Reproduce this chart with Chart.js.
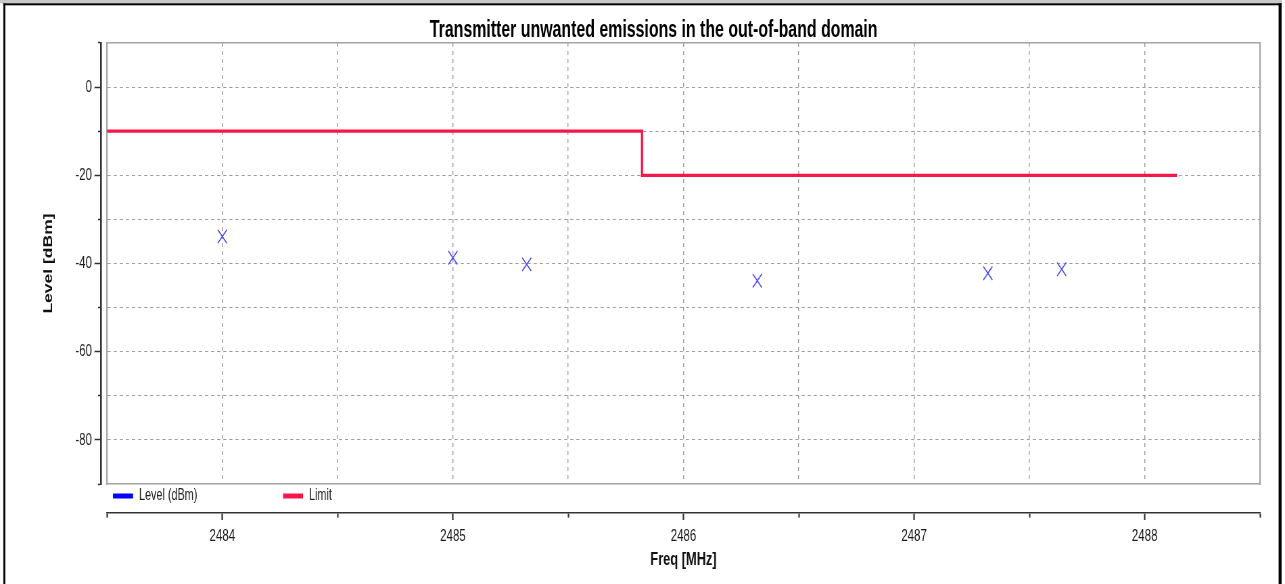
<!DOCTYPE html>
<html><head><meta charset="utf-8">
<script src="https://cdn.jsdelivr.net/npm/chart.js@4.4.1/dist/chart.umd.min.js"></script>
<style>html,body{margin:0;padding:0;background:#fff;overflow:hidden}canvas{display:block}</style>
</head><body>
<canvas id="c" width="1900" height="584" style="width:1285px;height:584px"></canvas>
<script>
// ---- data ----
const levelFreq   = [2484.0, 2485.0, 2485.32, 2486.32, 2487.32, 2487.64];
const levelValues = [-33.9, -38.7, -40.2, -43.9, -42.2, -41.3];
const limitFreq   = [2483.5, 2485.82, 2485.82, 2488.14];
const limitLevel  = [-10, -10, -20, -20];
const yTickLabels = [0, -20, -40, -60, -80];
const xTickLabels = [2484, 2485, 2486, 2487, 2488];
const seriesNames = ['Level (dBm)', 'Limit'];

// canvas is drawn wide and shown squeezed horizontally, like the reference
const SX = 1900 / 1285;
const FONT = "'Liberation Sans', Arial, sans-serif";

const framePlugin = {
  id: 'frame',
  beforeDraw(chart) {
    const c = chart.ctx;
    c.save();
    c.fillStyle = '#fff'; c.fillRect(0, 0, chart.width, chart.height);
    c.fillStyle = '#c8c8c8'; c.fillRect(0, 0, 1282 * SX, 3.4);
    c.fillStyle = '#000';
    c.fillRect(3.3 * SX, 3.3, (1281.7 - 3.3) * SX, 2);
    c.fillRect(3.3 * SX, 3.3, 2 * SX, chart.height);
    c.fillRect(1278.6 * SX, 3.3, 3 * SX, chart.height);
    c.restore();
  }
};

const legendColors = ['#0000ff', '#f5164a'];
const legendPlugin = {
  id: 'bandLegend',
  afterDraw(chart) {
    const c = chart.ctx, a = chart.chartArea;
    const offs = [6 * SX, 176 * SX];
    c.save();
    c.font = '16px ' + FONT;
    c.textBaseline = 'middle';
    c.textAlign = 'left';
    chart.data.datasets.forEach((ds, i) => {
      const x = a.left + offs[i];
      c.fillStyle = legendColors[i];
      c.fillRect(x, a.bottom + 9.5, 20 * SX, 5);
      c.fillStyle = '#222';
      c.fillText(ds.label, x + 26 * SX, a.bottom + 12);
    });
    c.restore();
  }
};

const gridGray = '#9c9c9c';
const borderGray = '#a4a4a4';

new Chart(document.getElementById('c'), {
  type: 'scatter',
  data: {
    datasets: [
      {
        label: seriesNames[0],
        data: levelFreq.map((f, i) => ({x: f, y: levelValues[i]})),
        showLine: false,
        pointStyle: 'crossRot',
        pointRadius: 9.5,
        pointBorderWidth: 1.4,
        pointBorderColor: '#4646ff',
        pointBackgroundColor: '#4646ff',
        xAxisID: 'x', yAxisID: 'y'
      },
      {
        label: seriesNames[1],
        data: limitFreq.map((f, i) => ({x: f, y: limitLevel[i]})),
        showLine: true,
        borderColor: '#f5164a',
        borderWidth: 3.3,
        pointRadius: 0,
        tension: 0,
        xAxisID: 'x', yAxisID: 'y'
      }
    ]
  },
  options: {
    responsive: false,
    animation: false,
    devicePixelRatio: 1,
    layout: {padding: {left: 33, right: 0, top: 0, bottom: 0}},
    plugins: {
      legend: {display: false},
      tooltip: {enabled: false},
      title: {
        display: true,
        text: 'Transmitter unwanted emissions in the out-of-band domain',
        color: '#000',
        font: {family: FONT, size: 23.5, weight: 'bold', lineHeight: 1.05},
        padding: {top: 18.3, bottom: 0}
      }
    },
    scales: {
      x: {
        type: 'linear', position: 'bottom', weight: 0,
        min: 2483.5, max: 2488.5,
        ticks: {display: false, stepSize: 0.5},
        grid: {
          drawTicks: false,
          color: c => (c.tick && (c.tick.value <= 2483.5 || c.tick.value >= 2488.5)) ? 'rgba(0,0,0,0)' : gridGray,
          lineWidth: 1.4
        },
        border: {display: true, color: borderGray, width: 1.5, dash: [4, 4]},
        afterFit: s => { s.height = 29; }
      },
      x2: {
        type: 'linear', position: 'bottom', weight: 1,
        min: 2483.5, max: 2488.5,
        ticks: {
          stepSize: 0.5,
          autoSkip: false,
          maxRotation: 0,
          padding: 6,
          color: '#1a1a1a',
          font: {family: FONT, size: 17},
          callback: v => xTickLabels.includes(v) ? String(v) : ''
        },
        grid: {
          drawOnChartArea: false,
          drawTicks: true,
          tickLength: 7,
          tickWidth: 2.2,
          tickColor: '#333',
          tickBorderDash: c => (c.tick && xTickLabels.includes(c.tick.value)) ? [] : [4, 100]
        },
        border: {display: true, color: '#333', width: 1.6},
        title: {
          display: true, text: 'Freq [MHz]', color: '#111',
          font: {family: FONT, size: 19, weight: 'bold', lineHeight: 1.2},
          padding: {top: 0, bottom: 12.6}
        },
        afterFit: s => { s.height = 71; }
      },
      xt: {
        type: 'linear', position: 'top',
        min: 2483.5, max: 2488.5,
        ticks: {display: false},
        grid: {display: false, drawOnChartArea: false, drawTicks: false},
        border: {display: true, color: borderGray, width: 1.5},
        afterFit: s => { s.height = 0; }
      },
      y: {
        type: 'linear', position: 'left', weight: 0,
        min: -90, max: 10,
        ticks: {display: false, stepSize: 10},
        grid: {
          drawTicks: false,
          color: c => (c.tick && (c.tick.value <= -90 || c.tick.value >= 10)) ? 'rgba(0,0,0,0)' : gridGray,
          lineWidth: 1
        },
        border: {display: true, color: borderGray, width: 2.2, dash: [4.5, 4.5]},
        afterFit: s => { s.width = 8.9; }
      },
      y2: {
        type: 'linear', position: 'left', weight: 1,
        min: -90, max: 10,
        ticks: {
          stepSize: 10,
          autoSkip: false,
          padding: 3.7,
          color: '#1a1a1a',
          font: {family: FONT, size: 17},
          callback: v => yTickLabels.includes(v) ? String(v) : ''
        },
        grid: {
          drawOnChartArea: false,
          drawTicks: true,
          tickLength: 9.6,
          tickWidth: 1.5,
          tickColor: '#333',
          tickBorderDash: c => (c.tick && yTickLabels.includes(c.tick.value)) ? [] : [0, 5.2, 4.4, 100]
        },
        border: {display: true, color: '#333', width: 2.6},
        title: {
          display: true, text: 'Level [dBm]', color: '#111',
          font: {family: FONT, size: 17.5, weight: 'bold', lineHeight: 1.2},
          padding: {top: 29, bottom: 0}
        },
        afterFit: s => { s.width = 116.3; }
      },
      yr: {
        type: 'linear', position: 'right',
        min: -90, max: 10,
        ticks: {display: false},
        grid: {display: false, drawOnChartArea: false, drawTicks: false},
        border: {display: true, color: borderGray, width: 2.2},
        afterFit: s => { s.width = 37; }
      }
    }
  },
  plugins: [framePlugin, legendPlugin]
});
</script>
</body></html>
